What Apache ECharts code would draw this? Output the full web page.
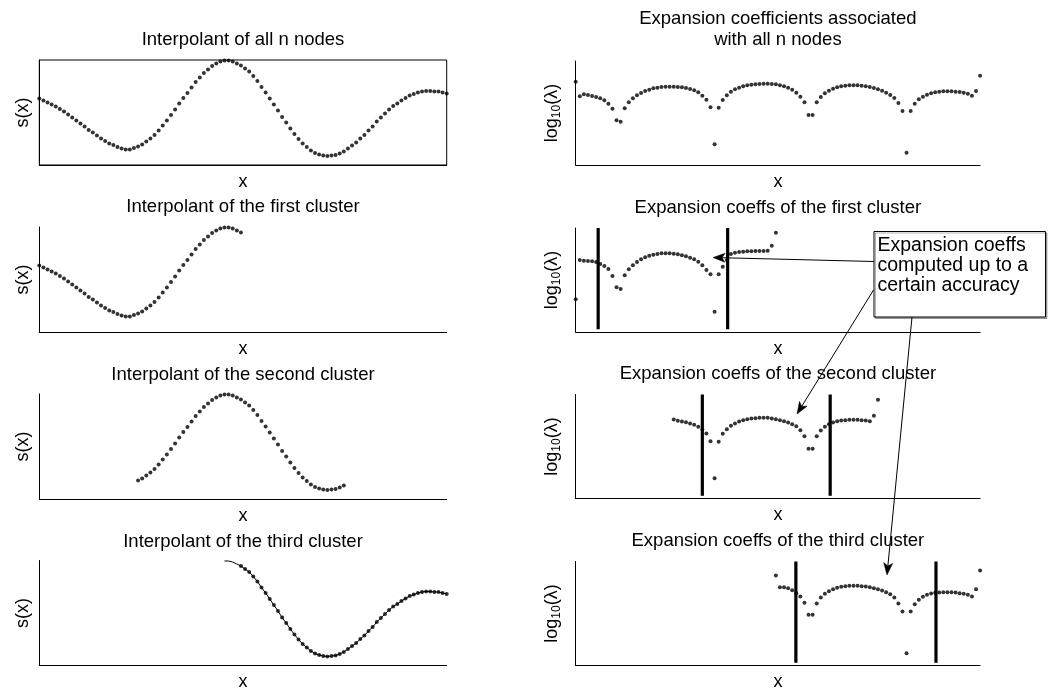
<!DOCTYPE html>
<html><head><meta charset="utf-8">
<script src="https://cdn.jsdelivr.net/npm/echarts@6/dist/echarts.min.js"></script>
<style>html,body{margin:0;padding:0;background:#fff}#c{width:1059px;height:695px}</style>
</head><body><div id="c"></div>
<script>
// ---------------- data ----------------
const sVals = [0.23,0.19,0.15,0.11,0.07,0.02,-0.03,-0.09,-0.15,-0.21,
-0.27,-0.33,-0.40,-0.45,-0.51,-0.57,-0.62,-0.67,-0.70,-0.74,
-0.77,-0.79,-0.79,-0.76,-0.73,-0.69,-0.63,-0.57,-0.50,-0.41,
-0.31,-0.21,-0.10,0.01,0.13,0.24,0.34,0.45,0.56,0.65,
0.74,0.81,0.88,0.93,0.97,0.99,0.99,0.97,0.93,0.89,
0.83,0.77,0.68,0.58,0.46,0.35,0.23,0.11,-0.01,-0.14,
-0.25,-0.37,-0.48,-0.58,-0.67,-0.74,-0.81,-0.86,-0.89,-0.91,
-0.92,-0.91,-0.90,-0.87,-0.83,-0.77,-0.71,-0.65,-0.57,-0.50,
-0.41,-0.33,-0.23,-0.15,-0.07,0.01,0.08,0.13,0.19,0.24,
0.29,0.32,0.35,0.37,0.38,0.38,0.37,0.37,0.35,0.33];

const lamAll = [-2.58,-4.42,-4.17,-4.25,-4.38,-4.50,-4.67,-4.92,-5.33,-5.96,
-7.42,-7.58,-5.92,-5.17,-4.67,-4.29,-4.00,-3.75,-3.58,-3.42,
-3.33,-3.25,-3.21,-3.21,-3.21,-3.25,-3.29,-3.38,-3.50,-3.67,
-3.92,-4.33,-4.83,-5.79,-10.42,-5.83,-4.88,-4.29,-3.83,-3.54,
-3.33,-3.17,-3.04,-2.96,-2.92,-2.88,-2.83,-2.83,-2.88,-2.92,
-3.04,-3.17,-3.33,-3.58,-3.96,-4.46,-5.17,-6.75,-6.75,-5.17,
-4.50,-4.04,-3.71,-3.46,-3.29,-3.17,-3.08,-3.04,-3.04,-3.04,
-3.08,-3.17,-3.25,-3.38,-3.54,-3.71,-3.96,-4.25,-4.63,-5.25,
-6.25,-11.46,-6.25,-5.33,-4.79,-4.46,-4.21,-4.04,-3.92,-3.83,
-3.79,-3.79,-3.79,-3.83,-3.88,-3.96,-4.08,-4.33,-3.75,-1.83];

const lamC1Start = 0;
const lamC1 = [-8.92,-4.00,-4.08,-4.13,-4.17,-4.25,-4.50,-4.75,-5.13,-6.00,
-7.42,-7.63,-5.92,-5.17,-4.67,-4.25,-3.92,-3.67,-3.46,-3.33,
-3.25,-3.17,-3.17,-3.17,-3.21,-3.29,-3.42,-3.54,-3.71,-3.92,
-4.21,-4.67,-5.25,-5.79,-10.46,-5.79,-4.83,-4.00,-3.25,-3.08,
-3.00,-2.96,-2.92,-2.92,-2.88,-2.88,-2.88,-2.83,-2.21,-0.58];

const lamC2Start = 24;
const lamC2 = [-3.13,-3.29,-3.38,-3.46,-3.63,-3.79,-4.04,-4.38,-4.88,-5.83,
-10.46,-5.92,-4.92,-4.33,-3.92,-3.63,-3.38,-3.21,-3.08,-3.00,
-2.96,-2.92,-2.92,-2.92,-3.00,-3.08,-3.21,-3.33,-3.50,-3.71,
-3.96,-4.46,-5.21,-6.79,-6.79,-5.21,-4.50,-4.04,-3.71,-3.50,
-3.33,-3.25,-3.21,-3.17,-3.17,-3.17,-3.21,-3.25,-3.33,-2.67,
-0.67];

const lamC3Start = 49;
const lamC3 = [-1.75,-3.21,-3.21,-3.33,-3.58,-3.96,-4.38,-5.17,-6.67,-6.67,
-5.25,-4.50,-4.04,-3.71,-3.46,-3.29,-3.17,-3.08,-3.04,-3.04,
-3.04,-3.08,-3.13,-3.21,-3.33,-3.46,-3.63,-3.83,-4.08,-4.50,
-5.25,-6.25,-11.46,-6.25,-5.33,-4.79,-4.42,-4.17,-4.00,-3.92,
-3.88,-3.83,-3.83,-3.83,-3.88,-3.96,-4.04,-4.17,-4.38,-3.46,
-1.13];

const interpRanges = [[0, 99], [0, 49], [24, 74], [49, 99]];
const thirdLineStart = 45;
const boundaries = [null, [5.5, 37.2], [31.0, 62.3], [53.9, 88.2]];
const boundSpan = [-12.66, 0];
const sRange = [-1.1, 1.0];
const lamRange = [-13, 0];
const nodeRange = [0, 99];

const leftTitles = ['Interpolant of all n nodes', 'Interpolant of the first cluster',
  'Interpolant of the second cluster', 'Interpolant of the third cluster'];
const rightTitles = ['Expansion coefficients associated\nwith all n nodes',
  'Expansion coeffs of the first cluster', 'Expansion coeffs of the second cluster',
  'Expansion coeffs of the third cluster'];
const noteText = 'Expansion coeffs\ncomputed up to a\ncertain accuracy';

// ---------------- layout ----------------
const FONT = '"Liberation Sans", Arial, Helvetica, sans-serif';
const L = {x: 39.3, w: 407.4, tops: [60, 227, 394, 560.5], h: 105};
const R = {x: 575.7, w: 404.4, tops: [61, 228, 394.5, 561.5], h: 104};
const leftTitleY = [40, 207, 375, 541.5];
const rightTitleY = [29.5, 208, 374, 541];
const DOT = 4;

const grids = [], xAxes = [], yAxes = [], series = [];
const axisCommon = {
  axisLine: {show: true, onZero: false, lineStyle: {color: '#000', width: 1}},
  axisTick: {show: false}, axisLabel: {show: false}, splitLine: {show: false}
};
const nameStyle = {fontSize: 18, fontFamily: FONT, color: '#000'};

const lamSets = [[lamAll, 0], [lamC1, lamC1Start], [lamC2, lamC2Start], [lamC3, lamC3Start]];

for (let r = 0; r < 4; r++) {
  const gl = grids.length;
  grids.push({left: L.x, top: L.tops[r], width: L.w, height: L.h,
    show: r === 0, borderColor: '#000', borderWidth: 1, backgroundColor: 'transparent'});
  grids.push({left: R.x, top: R.tops[r], width: R.w, height: R.h});
  const gr = gl + 1;
  xAxes.push(Object.assign({gridIndex: gl, type: 'value', min: nodeRange[0], max: nodeRange[1],
    name: 'x', nameLocation: 'middle', nameGap: 8, nameTextStyle: nameStyle}, axisCommon));
  xAxes.push(Object.assign({gridIndex: gr, type: 'value', min: nodeRange[0], max: nodeRange[1],
    name: 'x', nameLocation: 'middle', nameGap: 8, nameTextStyle: nameStyle}, axisCommon));
  yAxes.push(Object.assign({gridIndex: gl, type: 'value', min: sRange[0], max: sRange[1],
    name: 's(x)', nameLocation: 'middle', nameGap: 7, nameTextStyle: nameStyle}, axisCommon));
  yAxes.push(Object.assign({gridIndex: gr, type: 'value', min: lamRange[0], max: lamRange[1],
    name: '{a|log}{b|10}{a|(λ)}', nameLocation: 'middle', nameGap: 13,
    nameTextStyle: {fontFamily: FONT, color: '#000', fontSize: 18,
      rich: {a: {fontSize: 18, fontFamily: FONT, color: '#000', lineHeight: 22},
             b: {fontSize: 12, fontFamily: FONT, color: '#000', verticalAlign: 'bottom', lineHeight: 12}}}}, axisCommon));

  // interpolant
  const [a, b] = interpRanges[r];
  if (r === 3) {
    series.push({type: 'line', xAxisIndex: gl, yAxisIndex: gl, symbol: 'none',
      lineStyle: {color: '#000', width: 1}, silent: true, animation: false,
      data: sVals.slice(thirdLineStart, b + 1).map((v, i) => [thirdLineStart + i, v])});
  }
  series.push({type: 'scatter', xAxisIndex: gl, yAxisIndex: gl, symbolSize: DOT,
    itemStyle: {color: '#000'}, silent: true, animation: false,
    data: sVals.slice(a, b + 1).map((v, i) => [a + i, v])});

  // coefficients
  const [arr, st] = lamSets[r];
  series.push({type: 'scatter', xAxisIndex: gr, yAxisIndex: gr, symbolSize: DOT,
    itemStyle: {color: '#000'}, silent: true, animation: false,
    data: arr.map((v, i) => [st + i, v])});
  if (boundaries[r]) {
    boundaries[r].forEach(bx => {
      series.push({type: 'line', xAxisIndex: gr, yAxisIndex: gr, symbol: 'none',
        lineStyle: {color: '#000', width: 3.2}, silent: true, animation: false, z: 3,
        data: [[bx, boundSpan[0]], [bx, boundSpan[1]]]});
    });
  }
}

// ---------------- graphics (titles, annotation) ----------------
const graphics = [];
for (let r = 0; r < 4; r++) {
  graphics.push({type: 'text', x: L.x + L.w / 2, y: leftTitleY[r], silent: true,
    style: {text: leftTitles[r], fontSize: 18.5, fontFamily: FONT, fill: '#000',
      align: 'center', verticalAlign: 'middle'}});
  graphics.push({type: 'text', x: R.x + R.w / 2, y: rightTitleY[r], silent: true,
    style: {text: rightTitles[r], fontSize: 18.5, fontFamily: FONT, fill: '#000',
      align: 'center', verticalAlign: 'middle', lineHeight: 21}});
}

function arrow(x1, y1, x2, y2) {
  const dx = x2 - x1, dy = y2 - y1, len = Math.hypot(dx, dy);
  const ux = dx / len, uy = dy / len, px = -uy, py = ux;
  const hl = 12, hw = 4.5, notch = 3;
  const bx = x2 - ux * hl, by = y2 - uy * hl;
  const nx = x2 - ux * (hl - notch), ny = y2 - uy * (hl - notch);
  graphics.push({type: 'line', silent: true, z: 10,
    shape: {x1: x1, y1: y1, x2: nx, y2: ny}, style: {stroke: '#000', lineWidth: 1}});
  graphics.push({type: 'polygon', silent: true, z: 10,
    shape: {points: [[x2, y2], [bx + px * hw, by + py * hw], [nx, ny], [bx - px * hw, by - py * hw]]},
    style: {fill: '#000', stroke: '#000', lineWidth: 0.5}});
}
arrow(874, 261.5, 713, 257.5);
arrow(873.5, 290, 797, 414);
arrow(912, 317, 887, 575);

graphics.push({type: 'rect', silent: true, z: 11,
  shape: {x: 874, y: 231.5, width: 171.5, height: 85.5},
  style: {fill: '#fff', stroke: '#000', lineWidth: 1,
    shadowColor: 'rgba(0,0,0,0.3)', shadowOffsetX: 1.5, shadowOffsetY: 1.5, shadowBlur: 0}});
graphics.push({type: 'text', silent: true, z: 12, x: 877.5, y: 236,
  style: {text: noteText, fontSize: 19.5, fontFamily: FONT, fill: '#000',
    align: 'left', verticalAlign: 'top', lineHeight: 20}});

const chart = echarts.init(document.getElementById('c'), null, {renderer: 'canvas'});
chart.setOption({
  animation: false,
  backgroundColor: '#fff',
  grid: grids, xAxis: xAxes, yAxis: yAxes, series: series,
  graphic: graphics
});
</script></body></html>
